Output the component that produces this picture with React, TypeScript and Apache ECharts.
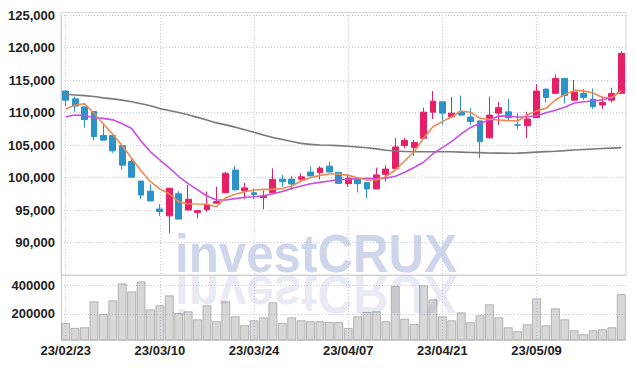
import React, { useEffect, useRef } from "react";
import * as echarts from "echarts";

const dates = [
  "23/02/23", "23/02/24", "23/02/27", "23/02/28", "23/03/02", "23/03/03", "23/03/06", "23/03/07", "23/03/08", "23/03/09",
  "23/03/10", "23/03/13", "23/03/14", "23/03/15", "23/03/16", "23/03/17", "23/03/20", "23/03/21", "23/03/22", "23/03/23",
  "23/03/24", "23/03/27", "23/03/28", "23/03/29", "23/03/30", "23/03/31", "23/04/03", "23/04/04", "23/04/05", "23/04/06",
  "23/04/07", "23/04/10", "23/04/11", "23/04/12", "23/04/13", "23/04/14", "23/04/17", "23/04/18", "23/04/19", "23/04/20",
  "23/04/21", "23/04/24", "23/04/25", "23/04/26", "23/04/27", "23/04/28", "23/05/02", "23/05/03", "23/05/04", "23/05/08",
  "23/05/09", "23/05/10", "23/05/11", "23/05/12", "23/05/15", "23/05/16", "23/05/17", "23/05/18", "23/05/19", "23/05/22",
];

// [open, close, low, high]
const ohlc = [
  [113300, 111900, 111000, 113400], [112100, 111000, 110100, 112450], [110850, 108900, 107650, 110900],
  [110150, 106300, 105700, 110200], [106450, 105750, 105700, 108350], [106450, 104100, 103800, 106500],
  [104900, 101900, 101300, 105250], [102450, 100050, 100000, 103050], [99450, 97300, 96650, 99500],
  [97900, 96400, 96350, 98950], [95150, 94750, 94100, 95900], [94100, 98350, 91400, 98400],
  [97500, 93600, 93600, 97900], [95000, 96650, 94950, 98850], [94600, 94900, 93700, 95000],
  [95050, 95850, 94700, 97850], [96050, 96300, 96000, 98600], [97650, 100650, 97600, 100850],
  [101150, 98100, 98000, 101750], [97950, 98400, 96650, 99200], [97650, 97400, 96650, 98300],
  [96900, 97150, 95100, 98000], [97650, 99700, 97600, 101400], [99750, 99350, 98600, 100400],
  [99750, 99000, 98100, 100250], [99750, 100100, 99350, 100650], [100850, 100250, 100200, 101650],
  [100750, 101450, 99700, 101750], [101750, 100850, 100800, 102400], [100800, 99100, 99050, 100850],
  [99050, 99900, 98550, 100500], [99750, 99050, 97700, 99800], [99250, 98250, 96800, 99300],
  [98250, 100400, 98200, 101500], [100500, 101300, 99350, 101900], [101400, 104700, 101350, 106100],
  [104900, 105700, 104500, 106100], [104600, 105400, 103350, 105750], [106050, 110050, 106000, 110750],
  [110050, 111750, 109000, 113300], [111650, 109900, 108100, 111700], [109350, 109900, 109300, 112400],
  [110100, 109600, 109550, 112600], [109300, 108600, 108100, 110650], [108700, 105500, 102950, 108750],
  [106100, 109600, 106050, 112450], [109900, 110750, 108100, 111650], [110100, 109200, 108700, 112100],
  [108100, 108050, 107450, 109900], [107950, 109000, 106050, 110100], [109200, 113300, 109150, 114350],
  [113600, 112300, 111550, 113650], [112950, 115250, 112900, 115850], [115250, 112600, 111400, 115300],
  [111900, 113100, 111850, 115000], [112950, 112300, 111900, 113600], [112050, 110900, 110550, 113700],
  [111150, 111550, 110550, 112450], [111900, 112950, 111550, 113800], [112950, 119100, 112900, 119450],
];

const volumes = [
  137300, 102400, 107300, 288500, 200000, 295500, 413900, 358200, 427900, 232500,
  260600, 330300, 207000, 218600, 163000, 260600, 149100, 288500, 184000, 121300,
  156100, 177000, 281500, 137300, 177000, 156100, 149100, 149100, 144200, 144200,
  102400, 184000, 213900, 218800, 149100, 395100, 167300, 130300, 400000, 302400,
  184000, 156100, 211800, 142100, 190900, 267600, 177000, 107300, 79500, 128200,
  309400, 121300, 239700, 163000, 86400, 58500, 86400, 93300, 107300, 339400,
];

const maShort = [
  110540, 111150, 111350, 109880, 108230, 106650, 104890, 102950, 101050, 99350,
  98230, 97500, 96280, 95970, 95920, 95880, 95500, 96900, 97420, 97820,
  98080, 98180, 98180, 98300, 98690, 99460, 99970, 100330, 100540, 100540,
  100330, 99970, 99620, 99620, 100130, 101150, 102540, 103970, 106030, 107820,
  108590, 109350, 110230, 110030, 109100, 108950, 108850, 108750, 108700, 109600,
  110250, 110650, 111920, 112750, 113400, 113330, 113000, 112310, 112350, 113330,
];

const maMid = [
  109350, 109620, 109550, 109200, 109100, 108870, 108280, 107550, 105600, 103950,
  102690, 101480, 100150, 99050, 98100, 97150, 96550, 96550, 96750, 96950,
  97030, 97200, 97500, 97850, 98300, 98700, 99050, 99250, 99450, 99700,
  99700, 99850, 99880, 99830, 99900, 100200, 100800, 101550, 102350, 103650,
  104600, 105550, 106700, 107700, 108340, 108850, 109450, 109450, 109300, 109300,
  109500, 109950, 110350, 110800, 111450, 111650, 111770, 111950, 112300, 113400,
];

const maLong = [
  112800, 112700, 112600, 112450, 112250, 112100, 111900, 111650, 111350, 111050,
  110600, 110300, 110000, 109650, 109250, 108850, 108400, 108100, 107750, 107350,
  106950, 106550, 106150, 105850, 105550, 105250, 105100, 105000, 104950, 104900,
  104800, 104700, 104580, 104400, 104200, 104080, 104000, 103970, 103970, 103970,
  103970, 103950, 103900, 103850, 103820, 103780, 103750, 103720, 103750, 103820,
  103900, 103980, 104050, 104130, 104220, 104300, 104380, 104450, 104520, 104590,
];

const priceMin = 85000;
const priceMax = 125000;
const priceStep = 5000;
const volMin = 18000;
const volMax = 472000;
const volumeTicks = [200000, 400000];

const UP = "#e61f66";
const DOWN = "#2b93c8";
const labelFont = "'Liberation Sans', Arial, sans-serif";
const gridDots = { color: "#c6c9dc", type: [1, 2] as number[], width: 1 };
const labelStyle = {
  color: "#222",
  fontFamily: labelFont,
  fontWeight: "bold",
  fontSize: 13,
};

export default function App() {
  const ref = useRef<HTMLDivElement>(null);
  useEffect(() => {
    if (!ref.current) return;
    const chart = echarts.init(ref.current, null, { renderer: "svg" });
    const wmFont = "bold 53px 'Liberation Sans', Arial, sans-serif";
    chart.setOption({
      animation: false,
      backgroundColor: "#ffffff",
      graphic: [
        {
          type: "rect",
          z: -5,
          shape: { x: 61, y: 12.5, width: 565, height: 262.5 },
          style: { fill: "none", stroke: "#d9d9d9", lineWidth: 1 },
        },
        {
          type: "text",
          z: -10,
          x: 175,
          y: 253.5,
          scaleX: 0.93,
          style: { text: "investCRUX", font: wmFont, fill: "#cfd5ea", verticalAlign: "middle", align: "left" },
        },
        {
          type: "text",
          z: -10,
          x: 175,
          y: 294,
          scaleX: 0.93,
          scaleY: -1,
          style: { text: "investCRUX", font: wmFont, fill: "#e8eaf4", verticalAlign: "middle", align: "left" },
        },
      ],
      grid: [
        { left: 61, right: 9, top: 15, height: 260, outerBoundsMode: "none", containLabel: false },
        { left: 61, right: 9, top: 275, height: 65, outerBoundsMode: "none", containLabel: false },
      ],
      xAxis: [
        {
          type: "category",
          gridIndex: 0,
          data: dates,
          boundaryGap: true,
          axisLine: { show: true, lineStyle: { color: "#cfcfcf" } },
          axisTick: { show: false },
          axisLabel: { show: false, interval: 9 },
          splitLine: { show: true, interval: 9, alignWithLabel: true, lineStyle: gridDots },
        },
        {
          type: "category",
          gridIndex: 1,
          data: dates,
          boundaryGap: true,
          axisLine: { show: true, lineStyle: { color: "#dedede" } },
          axisTick: { show: false },
          axisLabel: { ...labelStyle, interval: 9, margin: 4 },
          splitLine: { show: true, interval: 9, alignWithLabel: true, lineStyle: gridDots },
        },
      ],
      yAxis: [
        {
          type: "value",
          gridIndex: 0,
          min: priceMin,
          max: priceMax,
          interval: priceStep,
          axisLine: { show: true, lineStyle: { color: "#cfcfcf" } },
          axisTick: { show: false },
          axisLabel: {
            ...labelStyle,
            showMinLabel: false,
            margin: 6,
            formatter: (v: number) => v.toLocaleString("en-US"),
          },
          splitLine: { show: true, lineStyle: gridDots },
        },
        {
          type: "value",
          gridIndex: 1,
          min: volMin,
          max: volMax,
          axisLine: { show: true, lineStyle: { color: "#cfcfcf" } },
          axisTick: { show: false, customValues: volumeTicks },
          axisLabel: {
            ...labelStyle,
            customValues: volumeTicks,
            margin: 6,
            formatter: (v: number) => String(v),
          },
          splitLine: { show: true, lineStyle: gridDots },
        },
      ],
      series: [
        {
          type: "line",
          data: maLong,
          xAxisIndex: 0,
          yAxisIndex: 0,
          symbol: "none",
          lineStyle: { color: "#7a7a7a", width: 1.6 },
        },
        {
          type: "line",
          data: maMid,
          xAxisIndex: 0,
          yAxisIndex: 0,
          symbol: "none",
          lineStyle: { color: "#c84ee6", width: 1.6 },
        },
        {
          type: "line",
          data: maShort,
          xAxisIndex: 0,
          yAxisIndex: 0,
          symbol: "none",
          lineStyle: { color: "#ef8a4f", width: 1.6 },
        },
        {
          type: "candlestick",
          data: ohlc,
          xAxisIndex: 0,
          yAxisIndex: 0,
          barWidth: "68%",
          itemStyle: {
            color: UP,
            color0: DOWN,
            borderColor: UP,
            borderColor0: DOWN,
            borderWidth: 1,
          },
        },
        {
          type: "bar",
          data: volumes,
          xAxisIndex: 1,
          yAxisIndex: 1,
          barCategoryGap: "4%",
          itemStyle: {
            color: "rgba(150,150,150,0.38)",
            borderColor: "rgba(110,110,110,0.42)",
            borderWidth: 1,
          },
        },
      ],
    });
    return () => chart.dispose();
  }, []);
  return <div ref={ref} style={{ width: 635, height: 369, position: "absolute", left: 0, top: 0 }} />;
}
